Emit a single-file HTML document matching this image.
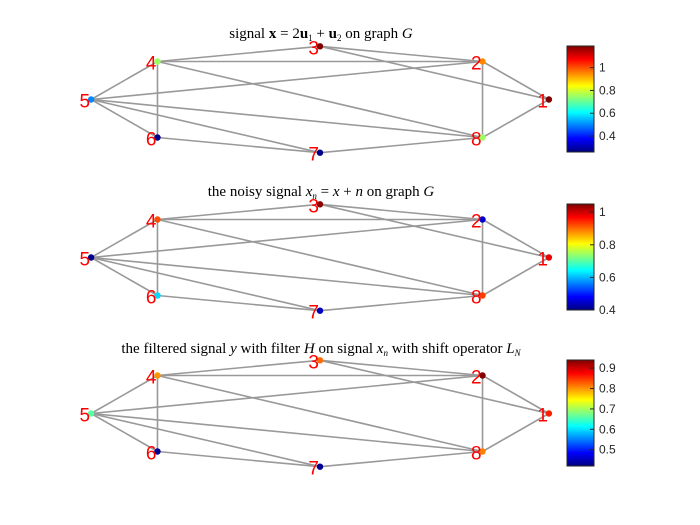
<!DOCTYPE html>
<html><head><meta charset="utf-8"><style>
body{margin:0;background:#fff}
svg{display:block}
</style></head><body>
<svg id="c" width="700" height="525" xmlns="http://www.w3.org/2000/svg"></svg>
<script>
const nodeIds = [1,2,3,4,5,6,7,8];
const nodeX = [3.0, 2.13, 0.0, -2.13, -3.0, -2.13, 0.0, 2.13];
const nodeY = [0.0, 1.0, 1.4, 1.0, 0.0, -1.0, -1.4, -1.0];
const edges = [[3,2],[3,1],[2,1],[2,8],[8,1],[7,8],[4,3],[4,2],[4,8],[4,6],[4,5],[5,2],[5,8],[5,7],[5,6],[6,7]];
const signal1 = [1.19, 0.95, 1.19, 0.75, 0.5, 0.27, 0.27, 0.75];
const signal2 = [0.98, 0.45, 1.04, 0.92, 0.41, 0.62, 0.44, 0.93];
const signal3 = [0.86, 0.94, 0.82, 0.80, 0.66, 0.43, 0.43, 0.81];
const cRange1 = [0.26, 1.19], ticks1 = [0.4, 0.6, 0.8, 1];
const cRange2 = [0.4, 1.05], ticks2 = [0.4, 0.6, 0.8, 1];
const cRange3 = [0.42, 0.94], ticks3 = [0.5, 0.6, 0.7, 0.8, 0.9];
const titles = [
 'signal <tspan font-weight="bold">x</tspan> = 2<tspan font-weight="bold">u</tspan><tspan font-size="9" dy="3">1</tspan><tspan dy="-3"> + </tspan><tspan font-weight="bold">u</tspan><tspan font-size="9" dy="3">2</tspan><tspan dy="-3"> on graph </tspan><tspan font-style="italic">G</tspan>',
 'the noisy signal <tspan font-style="italic">x</tspan><tspan font-size="9" font-style="italic" dy="3">n</tspan><tspan dy="-3"> = </tspan><tspan font-style="italic">x</tspan> + <tspan font-style="italic">n</tspan> on graph <tspan font-style="italic">G</tspan>',
 'the filtered signal <tspan font-style="italic">y</tspan> with filter <tspan font-style="italic">H</tspan> on signal <tspan font-style="italic">x</tspan><tspan font-size="9" font-style="italic" dy="3">n</tspan><tspan dy="-3"> with shift operator </tspan><tspan font-style="italic">L</tspan><tspan font-size="9" font-style="italic" dy="3">N</tspan>'
];
const NS='http://www.w3.org/2000/svg';
const svg=document.getElementById('c');
function mk(t,a,p){const e=document.createElementNS(NS,t);for(const k in a)e.setAttribute(k,a[k]);(p||svg).appendChild(e);return e;}
function jet(t){t=Math.max(0,Math.min(1,t));
 const f=x=>Math.round(255*Math.max(0,Math.min(1,1.5-Math.abs(4*t-x))));
 return `rgb(${f(3)},${f(2)},${f(1)})`;}
const panels=[
 {sig:signal1,cr:cRange1,tk:ticks1,cy:99.5,ty:38},
 {sig:signal2,cr:cRange2,tk:ticks2,cy:257.5,ty:196},
 {sig:signal3,cr:cRange3,tk:ticks3,cy:413.5,ty:353}];
const sx=v=>320+v*76.3, syf=(cy)=>v=>cy-v*38;
panels.forEach((p,pi)=>{
 const g=mk('g',{});
 
 
 const sy=syf(p.cy);
 const t=mk('text',{x:321,y:p.ty,'text-anchor':'middle','font-family':'Liberation Serif, serif','font-size':15,fill:'#000'},g);
 t.innerHTML=titles[pi];
 
 
 edges.forEach(([a,b])=>{
  const l=mk('line',{x1:sx(nodeX[a-1]),y1:sy(nodeY[a-1]),x2:sx(nodeX[b-1]),y2:sy(nodeY[b-1]),stroke:'#999','stroke-width':1.6},g);
  
  
 });
 const [lo,hi]=p.cr;
 nodeIds.forEach((id,i)=>{
  const x=sx(nodeX[i]),y=sy(nodeY[i]);
  const c=mk('circle',{cx:x,cy:y,r:3.2,fill:jet((p.sig[i]-lo)/(hi-lo))},g);
  
  
  const tx=mk('text',{x:x-1,y:y+8,'text-anchor':'end','font-family':'Liberation Sans, sans-serif','font-size':19,fill:'#f00'},g);
  tx.textContent=id;
  
  
 });
 const top=p.cy-53.5,bot=p.cy+52.5,x0=567,w=27;
 const gid='grad'+pi;
 const defs=mk('defs',{},g);
 const lg=mk('linearGradient',{id:gid,x1:0,y1:1,x2:0,y2:0},defs);
 for(let k=0;k<=16;k++){mk('stop',{offset:k/16,'stop-color':jet(k/16)},lg);}
 const cb=mk('rect',{x:x0,y:top,width:w,height:bot-top,fill:`url(#${gid})`,stroke:'#262626','stroke-width':1},g);
 
 
 const cyv=v=>bot-(v-lo)/(hi-lo)*(bot-top);
 p.tk.forEach(v=>{
  const y=cyv(v);
  mk('line',{x1:x0+w-4,y1:y,x2:x0+w,y2:y,stroke:'#262626','stroke-width':1},g);
  const lt=mk('text',{x:x0+w+5,y:y+4,'font-family':'Liberation Sans, sans-serif','font-size':12,fill:'#262626'},g);
  lt.textContent=String(v);
  
  
 });
});
</script>
</body></html>
